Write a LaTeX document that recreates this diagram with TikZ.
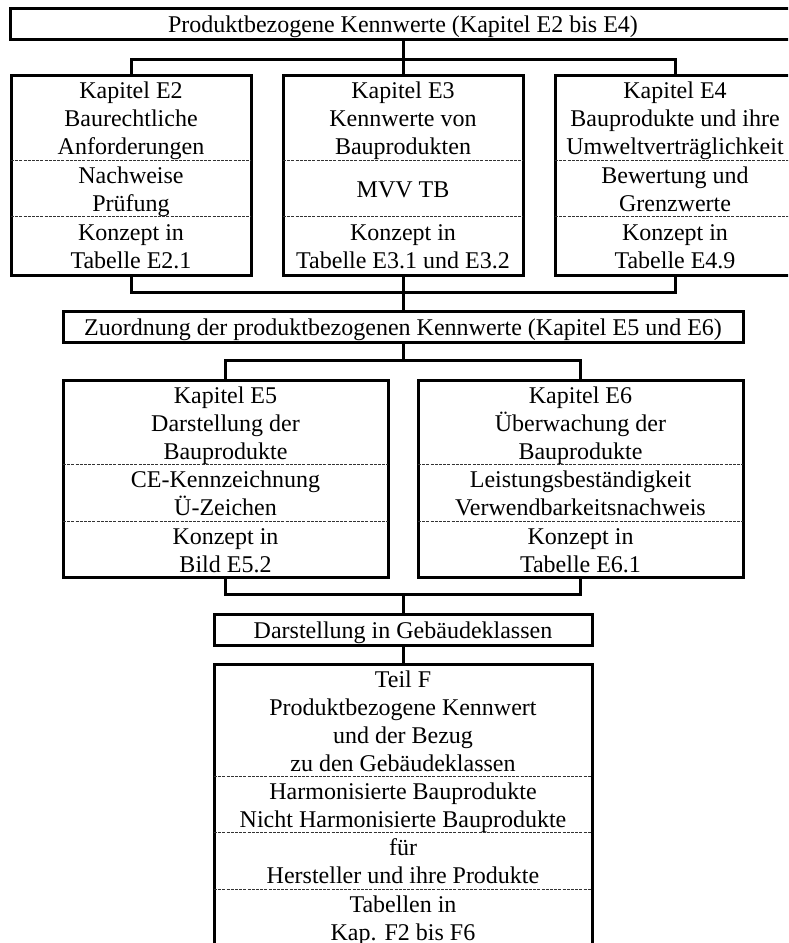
\documentclass[tikz,border=0pt]{standalone}
\usepackage{fontspec}
\setmainfont{Liberation Serif}
\usetikzlibrary{positioning,shapes.multipart}
\newcommand{\lstrut}{\rule[-2.6pt]{0pt}{14pt}}
\newcommand{\kpart}[3]{\parbox[c][#2][c]{#1}{\centering\lstrut#3\lstrut}}
\tikzset{
  headbox/.style={
    draw, line width=1.5pt, inner sep=0pt, outer sep=0pt,
    minimum height=15.5pt, font=\fontsize{12pt}{14pt}\selectfont
  },
  kbox/.style={
    draw, line width=1.5pt, inner sep=0pt, outer sep=0pt,
    rectangle split, rectangle split parts=#1,
    rectangle split draw splits=false,
    font=\fontsize{12pt}{14pt}\selectfont
  },
  kbox/.default=3,
  splitline/.style={black!80, line width=0.5pt, dash pattern=on 1.5pt off 0.6pt},
  link/.style={line width=1.5pt}
}
\begin{document}
\begin{tikzpicture}[x=0.5pt,y=-0.5pt,node distance=18.25pt and 16pt]
  \useasboundingbox (0,0) rectangle (788,943);
  \clip (0,0) rectangle (788,943);

  % Kapitel E2 bis E4
  \node[headbox, minimum width=393pt, anchor=north] (top) at (403,8)
    {\lstrut Produktbezogene Kennwerte (Kapitel E2 bis E4)};
  \node[kbox, below=of top] (e3)
    {\kpart{120pt}{41pt}{Kapitel E3\\Kennwerte von\\Bauprodukten}
     \nodepart{two}\kpart{120pt}{26.5pt}{MVV TB}
     \nodepart{three}\kpart{120pt}{27.75pt}{Konzept in\\Tabelle E3.1 und E3.2}};
  \node[kbox, left=of e3] (e2)
    {\kpart{120pt}{41pt}{Kapitel E2\\Baurechtliche\\Anforderungen}
     \nodepart{two}\kpart{120pt}{26.5pt}{Nachweise\\Prüfung}
     \nodepart{three}\kpart{120pt}{27.75pt}{Konzept in\\Tabelle E2.1}};
  \node[kbox, right=of e3] (e4)
    {\kpart{120pt}{41pt}{Kapitel E4\\Bauprodukte und ihre\\Umweltverträglichkeit}
     \nodepart{two}\kpart{120pt}{26.5pt}{Bewertung und\\Grenzwerte}
     \nodepart{three}\kpart{120pt}{27.75pt}{Konzept in\\Tabelle E4.9}};

  % Kapitel E5 und E6
  \node[headbox, minimum width=340pt, below=of e3] (zu)
    {\lstrut Zuordnung der produktbezogenen Kennwerte (Kapitel E5 und E6)};
  \node[kbox, below=19pt of zu.south west, anchor=north west] (e5)
    {\kpart{162.5pt}{40.5pt}{Kapitel E5\\Darstellung der\\Bauprodukte}
     \nodepart{two}\kpart{162.5pt}{26.75pt}{CE-Kennzeichnung\\Ü-Zeichen}
     \nodepart{three}\kpart{162.5pt}{26.75pt}{Konzept in\\Bild E5.2}};
  \node[kbox, below=19pt of zu.south east, anchor=north east] (e6)
    {\kpart{162.5pt}{40.5pt}{Kapitel E6\\Überwachung der\\Bauprodukte}
     \nodepart{two}\kpart{162.5pt}{26.75pt}{Leistungsbeständigkeit\\Verwendbarkeitsnachweis}
     \nodepart{three}\kpart{162.5pt}{26.75pt}{Konzept in\\Tabelle E6.1}};

  % Teil F
  \node[headbox, minimum width=189pt, anchor=north] (dg) at (403,614.5)
    {\lstrut Darstellung in Gebäudeklassen};
  \node[kbox=4, below=9.5pt of dg] (tf)
    {\kpart{189pt}{54.5pt}{Teil F\\Produktbezogene Kennwert\\und der Bezug\\zu den Gebäudeklassen}
     \nodepart{two}\kpart{189pt}{26.5pt}{Harmonisierte Bauprodukte\\Nicht Harmonisierte Bauprodukte}
     \nodepart{three}\kpart{189pt}{27pt}{für\\Hersteller und ihre Produkte}
     \nodepart{four}\kpart{189pt}{27pt}{Tabellen in\\Kap. F2 bis F6}};

  \foreach \n in {e2,e3,e4,e5,e6,tf} {
    \draw[splitline] (\n.text split west) -- (\n.text split east);
    \draw[splitline] (\n.two split west) -- (\n.two split east);
  }
  \draw[splitline] (tf.three split west) -- (tf.three split east);

  \coordinate (b1) at (403,59);
  \coordinate (b2) at (403,292);
  \coordinate (b3) at (403,360);
  \coordinate (b4) at (403,594.5);

  \draw[link] (top.south) -- (e3.north);
  \draw[link] (e2.north) |- (b1) -| (e4.north);
  \draw[link] (e2.south) |- (b2) -| (e4.south);
  \draw[link] (e3.south) -- (zu.north);
  \draw[link] (zu.south) -- (b3);
  \draw[link] (e5.north) |- (b3) -| (e6.north);
  \draw[link] (e5.south) |- (b4) -| (e6.south);
  \draw[link] (b4) -- (dg.north);
  \draw[link] (dg.south) -- (tf.north);
\end{tikzpicture}
\end{document}
